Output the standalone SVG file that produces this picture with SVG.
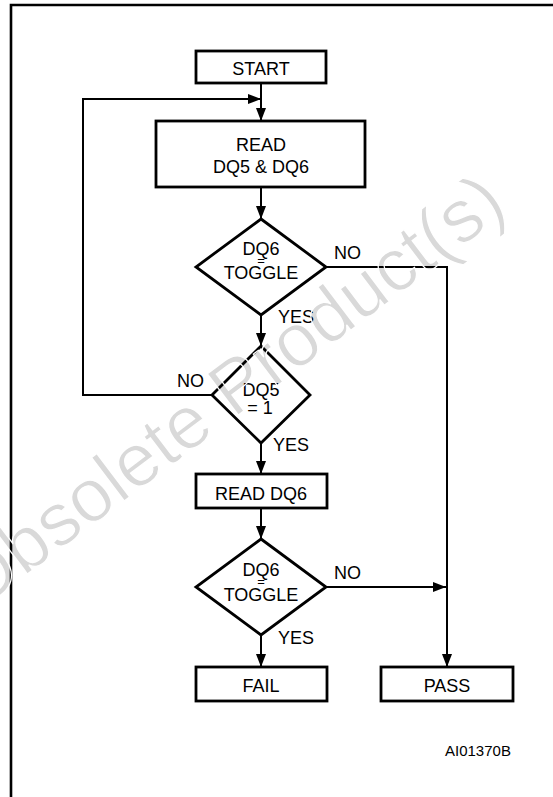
<svg xmlns="http://www.w3.org/2000/svg" width="553" height="797" viewBox="0 0 553 797">
<defs>
<style>
.box{fill:#fff;stroke:#000;stroke-width:2.8}
.dia{fill:#fff;stroke:#000;stroke-width:2.8;stroke-linejoin:miter}
.ln{fill:none;stroke:#000;stroke-width:2}
.t{font-family:"Liberation Sans",Arial,Helvetica,sans-serif;font-size:18px;fill:#000}
.c{text-anchor:middle}
.eq{font-size:13px}
.wm{font-family:"Liberation Sans",Arial,Helvetica,sans-serif;font-size:75px;fill:#000;fill-opacity:0.15;stroke:#fff;stroke-width:1.2}
</style>
<marker id="ah" markerUnits="userSpaceOnUse" markerWidth="14" markerHeight="10" refX="13" refY="5" orient="auto">
<path d="M0,0 L13,5 L0,10 Z" fill="#000"/>
</marker>
</defs>
<rect width="553" height="797" fill="#fff"/>
<path d="M11,797 V5 H553" fill="none" stroke="#000" stroke-width="2.6"/>

<g id="connectors">
<path class="ln" d="M261,83 V121" marker-end="url(#ah)"/>
<path class="ln" d="M212,395 H83 V99 H261" marker-end="url(#ah)"/>
<path class="ln" d="M261,187 V219" marker-end="url(#ah)"/>
<path class="ln" d="M261,315 V346" marker-end="url(#ah)"/>
<path class="ln" d="M326,267 H447 V667" marker-end="url(#ah)"/>
<path class="ln" d="M261,443 V474" marker-end="url(#ah)"/>
<path class="ln" d="M261,508 V539" marker-end="url(#ah)"/>
<path class="ln" d="M326,587 H446" marker-end="url(#ah)"/>
<path class="ln" d="M261,635 V667" marker-end="url(#ah)"/>
<text class="t" x="334" y="259">NO</text>
<text class="t" x="278" y="323">YES</text>
<text class="t" x="177" y="387">NO</text>
<text class="t" x="273" y="451">YES</text>
<text class="t" x="334" y="579">NO</text>
<text class="t" x="278" y="644">YES</text>
</g>

<g id="start">
<rect class="box" x="196" y="51" width="130" height="32"/>
<text class="t c" x="261" y="75">START</text>
</g>
<g id="read56">
<rect class="box" x="156" y="121" width="209" height="66"/>
<text class="t c" x="261" y="151">READ</text>
<text class="t c" x="261" y="173">DQ5 &amp; DQ6</text>
</g>
<g id="dq6toggle1">
<polygon class="dia" points="261,219 326,267 261,315 196,267"/>
<text class="t c" x="261" y="255">DQ6</text>
<text class="t c eq" x="261" y="265">=</text>
<text class="t c" x="261" y="279">TOGGLE</text>
</g>
<g id="dq5eq1">
<polygon class="dia" points="261,346 310,395 261,443 212,395"/>
<text class="t c" x="261" y="396">DQ5</text>
<text class="t c" x="260" y="414">= 1</text>
</g>
<g id="read6">
<rect class="box" x="196" y="474" width="131" height="34"/>
<text class="t c" x="261" y="500">READ DQ6</text>
</g>
<g id="dq6toggle2">
<polygon class="dia" points="261,539 326,587 261,635 196,587"/>
<text class="t c" x="261" y="576">DQ6</text>
<text class="t c eq" x="261" y="586">=</text>
<text class="t c" x="261" y="601">TOGGLE</text>
</g>
<g id="fail">
<rect class="box" x="196" y="667" width="131" height="34"/>
<text class="t c" x="261" y="692">FAIL</text>
</g>
<g id="pass">
<rect class="box" x="381" y="667" width="132" height="34"/>
<text class="t c" x="447" y="692">PASS</text>
</g>
<text class="t" x="445" y="756" style="font-size:15px">AI01370B</text>

<text class="wm" transform="translate(-23,612) rotate(-37)">Obsolete Product(s)</text>
</svg>
